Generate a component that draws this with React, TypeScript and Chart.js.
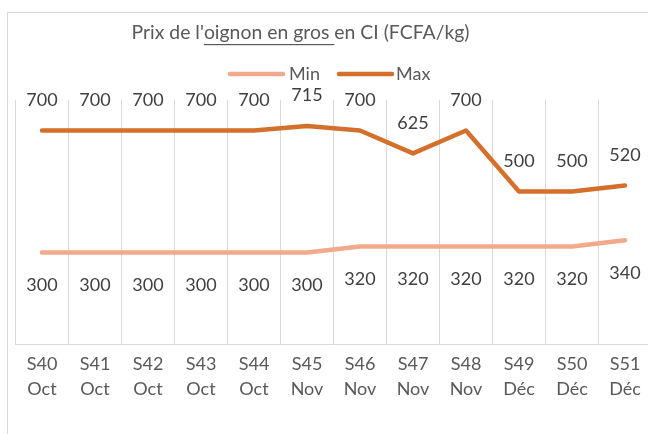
import React, { useEffect, useRef } from "react";
import { Chart, registerables } from "chart.js";

Chart.register(...registerables);

const weeks = ["S40", "S41", "S42", "S43", "S44", "S45", "S46", "S47", "S48", "S49", "S50", "S51"];
const months = ["Oct", "Oct", "Oct", "Oct", "Oct", "Nov", "Nov", "Nov", "Nov", "Déc", "Déc", "Déc"];
const minValues = [300, 300, 300, 300, 300, 300, 320, 320, 320, 320, 320, 340];
const maxValues = [700, 700, 700, 700, 700, 715, 700, 625, 700, 500, 500, 520];
const seriesNames = ["Min", "Max"];
const titleParts = ["Prix de l'", "oignon en gros ", "en CI (FCFA/kg)"];

const MIN_COLOR = "#F3A98B";
const MAX_COLOR = "#D4702B";
const FONT = "Lato, 'Noto Sans', sans-serif";

const overlayPlugin = {
  id: "overlay",
  afterDatasetsDraw(chart: any) {
    const ctx = chart.ctx;
    ctx.save();
    // data labels
    ctx.font = `18px ${FONT}`;
    ctx.fillStyle = "#404040";
    ctx.textAlign = "center";
    ctx.textBaseline = "middle";
    chart.data.datasets.forEach((ds: any, di: number) => {
      const meta = chart.getDatasetMeta(di);
      const off = di === 1 ? -30.5 : 32.5;
      meta.data.forEach((pt: any, i: number) => {
        ctx.fillText(String(ds.data[i]), pt.x, pt.y + off);
      });
    });
    // title
    ctx.font = `19.4px ${FONT}`;
    ctx.fillStyle = "#595959";
    ctx.textAlign = "left";
    ctx.textBaseline = "middle";
    const widths = titleParts.map((t) => ctx.measureText(t).width);
    const total = widths.reduce((a, b) => a + b, 0);
    let x = 300.5 - total / 2;
    const ty = 33;
    titleParts.forEach((t, i) => {
      ctx.fillText(t, x, ty);
      if (i === 1) {
        ctx.fillRect(x, ty + 11, widths[i], 1.2);
      }
      x += widths[i];
    });
    // legend
    ctx.font = `18px ${FONT}`;
    ctx.fillStyle = "#595959";
    ctx.lineCap = "round";
    ctx.lineWidth = 4.5;
    const ly = 74;
    const entries = [
      { x0: 230, x1: 283, tx: 289 },
      { x0: 339, x1: 392, tx: 396 },
    ];
    chart.data.datasets.forEach((ds: any, di: number) => {
      const e = entries[di];
      ctx.strokeStyle = ds.borderColor;
      ctx.beginPath();
      ctx.moveTo(e.x0, ly);
      ctx.lineTo(e.x1, ly);
      ctx.stroke();
      ctx.fillText(ds.label, e.tx, ly);
    });
    ctx.restore();
  },
};

export default function App() {
  const ref = useRef<HTMLCanvasElement>(null);
  useEffect(() => {
    const labels = weeks.map((w, i) => [w, months[i]]);
    const chart = new Chart(ref.current as HTMLCanvasElement, {
      type: "line",
      data: {
        labels,
        datasets: [
          {
            label: seriesNames[0],
            data: minValues,
            borderColor: MIN_COLOR,
            backgroundColor: MIN_COLOR,
            borderWidth: 4.5,
            borderCapStyle: "round",
            borderJoinStyle: "round",
            pointRadius: 0,
            tension: 0,
          },
          {
            label: seriesNames[1],
            data: maxValues,
            borderColor: MAX_COLOR,
            backgroundColor: MAX_COLOR,
            borderWidth: 4.5,
            borderCapStyle: "round",
            borderJoinStyle: "round",
            pointRadius: 0,
            tension: 0,
          },
        ],
      },
      options: {
        responsive: false,
        animation: false,
        layout: { padding: { left: 15.5, right: 28.5, top: 100, bottom: 0 } },
        plugins: {
          legend: { display: false },
          title: { display: false },
          tooltip: { enabled: false },
        },
        scales: {
          x: {
            offset: true,
            grid: { offset: true, color: "#D9D9D9", lineWidth: 1, drawTicks: false },
            border: { display: true, color: "#D9D9D9", width: 1 },
            ticks: {
              color: "#595959",
              font: { family: FONT, size: 18, lineHeight: 1.39 },
              padding: 8,
              maxRotation: 0,
              autoSkip: false,
            },
            afterFit: (scale: any) => {
              scale.height = 90;
            },
          },
          y: {
            display: false,
            min: 0,
            max: 800,
          },
        },
      },
      plugins: [overlayPlugin],
    } as any);
    return () => chart.destroy();
  }, []);

  return (
    <div
      style={{
        position: "fixed",
        left: 0,
        top: 0,
        width: 648,
        height: 434,
        overflow: "hidden",
        background: "#fff",
      }}
    >
      <div
        style={{
          position: "absolute",
          left: 7,
          top: 12,
          width: 700,
          height: 500,
          border: "1px solid #D9D9D9",
          boxSizing: "border-box",
        }}
      />
      <canvas
        ref={ref}
        width={680}
        height={434}
        style={{ position: "absolute", left: 0, top: 0, width: 680, height: 434 }}
      />
    </div>
  );
}
